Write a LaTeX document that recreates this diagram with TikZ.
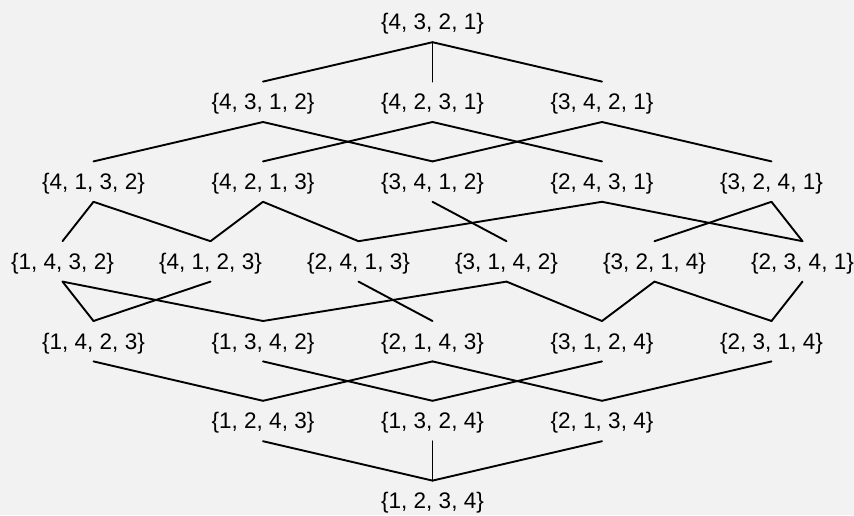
\documentclass[tikz,border=0pt]{standalone}
\usepackage{fontspec}
\setmainfont{Liberation Sans}
\usetikzlibrary{positioning}
\definecolor{bggray}{HTML}{F2F2F2}
\tikzset{
  pn/.style={inner sep=0pt, minimum height=40pt, text height=15.8pt,
             text depth=0pt, font=\fontsize{22.5}{26}\selectfont},
  ln/.style={line width=1.9pt, line cap=round}
}

\begin{document}
\begin{tikzpicture}[x=1pt, y=-1pt]
  \fill[bggray] (0,0) rectangle (854,515);
  \useasboundingbox (0,0) rectangle (854,515);
  % level 0
  \node[pn] (p4321) at (432.5,22) {\{4, 3, 2, 1\}};
  % level 1
  \node[pn] (p4312) at (263,101.8) {\{4, 3, 1, 2\}};
  \node[pn] (p4231) at (432.5,101.8) {\{4, 2, 3, 1\}};
  \node[pn] (p3421) at (602,101.8) {\{3, 4, 2, 1\}};
  % level 2
  \node[pn] (p4132) at (93.5,181.6) {\{4, 1, 3, 2\}};
  \node[pn] (p4213) at (263,181.6) {\{4, 2, 1, 3\}};
  \node[pn] (p3412) at (432.5,181.6) {\{3, 4, 1, 2\}};
  \node[pn] (p2431) at (602,181.6) {\{2, 4, 3, 1\}};
  \node[pn] (p3241) at (771.5,181.6) {\{3, 2, 4, 1\}};
  % level 3
  \node[pn] (p1432) at (62.5,261.4) {\{1, 4, 3, 2\}};
  \node[pn] (p4123) at (210.5,261.4) {\{4, 1, 2, 3\}};
  \node[pn] (p2413) at (358.5,261.4) {\{2, 4, 1, 3\}};
  \node[pn] (p3142) at (506.5,261.4) {\{3, 1, 4, 2\}};
  \node[pn] (p3214) at (654.5,261.4) {\{3, 2, 1, 4\}};
  \node[pn] (p2341) at (802.5,261.4) {\{2, 3, 4, 1\}};
  % level 4
  \node[pn] (p1423) at (93.5,341.2) {\{1, 4, 2, 3\}};
  \node[pn] (p1342) at (263,341.2) {\{1, 3, 4, 2\}};
  \node[pn] (p2143) at (432.5,341.2) {\{2, 1, 4, 3\}};
  \node[pn] (p3124) at (602,341.2) {\{3, 1, 2, 4\}};
  \node[pn] (p2314) at (771.5,341.2) {\{2, 3, 1, 4\}};
  % level 5
  \node[pn] (p1243) at (263,421) {\{1, 2, 4, 3\}};
  \node[pn] (p1324) at (432.5,421) {\{1, 3, 2, 4\}};
  \node[pn] (p2134) at (602,421) {\{2, 1, 3, 4\}};
  % level 6
  \node[pn] (p1234) at (432.5,500.8) {\{1, 2, 3, 4\}};

  \draw[ln] (p4321.south) -- (p4312.north);
  \draw[ln] (p4321.south) -- (p4231.north);
  \draw[ln] (p4321.south) -- (p3421.north);

  \draw[ln] (p4312.south) -- (p4132.north);
  \draw[ln] (p4312.south) -- (p3412.north);
  \draw[ln] (p4231.south) -- (p4213.north);
  \draw[ln] (p4231.south) -- (p2431.north);
  \draw[ln] (p3421.south) -- (p3412.north);
  \draw[ln] (p3421.south) -- (p3241.north);

  \draw[ln] (p4132.south) -- (p1432.north);
  \draw[ln] (p4132.south) -- (p4123.north);
  \draw[ln] (p4213.south) -- (p4123.north);
  \draw[ln] (p4213.south) -- (p2413.north);
  \draw[ln] (p3412.south) -- (p3142.north);
  \draw[ln] (p2431.south) -- (p2413.north);
  \draw[ln] (p2431.south) -- (p2341.north);
  \draw[ln] (p3241.south) -- (p3214.north);
  \draw[ln] (p3241.south) -- (p2341.north);

  \draw[ln] (p1432.south) -- (p1423.north);
  \draw[ln] (p1432.south) -- (p1342.north);
  \draw[ln] (p4123.south) -- (p1423.north);
  \draw[ln] (p2413.south) -- (p2143.north);
  \draw[ln] (p3142.south) -- (p1342.north);
  \draw[ln] (p3142.south) -- (p3124.north);
  \draw[ln] (p3214.south) -- (p3124.north);
  \draw[ln] (p3214.south) -- (p2314.north);
  \draw[ln] (p2341.south) -- (p2314.north);

  \draw[ln] (p1423.south) -- (p1243.north);
  \draw[ln] (p1342.south) -- (p1324.north);
  \draw[ln] (p2143.south) -- (p1243.north);
  \draw[ln] (p2143.south) -- (p2134.north);
  \draw[ln] (p3124.south) -- (p1324.north);
  \draw[ln] (p2314.south) -- (p2134.north);

  \draw[ln] (p1243.south) -- (p1234.north);
  \draw[ln] (p1324.south) -- (p1234.north);
  \draw[ln] (p2134.south) -- (p1234.north);
\end{tikzpicture}
\end{document}
